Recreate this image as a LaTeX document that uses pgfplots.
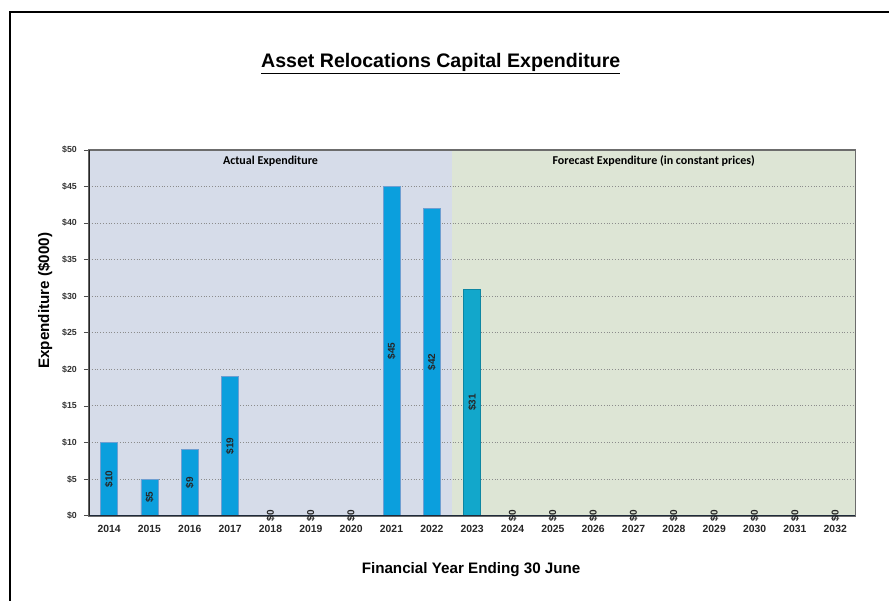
\documentclass[border=0pt]{standalone}
\usepackage{pgfplots}
\pgfplotsset{compat=1.18}
\usepackage{fontspec}
\setmainfont{Liberation Sans}
\newfontfamily\calibri{Carlito}

\definecolor{actualbg}{HTML}{D6DCE9}
\definecolor{forecastbg}{HTML}{DDE5D5}
\definecolor{barblue}{HTML}{0B9FDD}
\definecolor{barteal}{HTML}{12A7CB}
\definecolor{baredge}{HTML}{6E9FD2}
\definecolor{gridgray}{HTML}{8C8C8C}
\definecolor{axisdark}{HTML}{1E2A3A}

\begin{document}
\begin{tikzpicture}
% page frame (1px = 0.5pt)
\path (0,0) rectangle (445pt,-300.5pt);
\draw[line width=0.6pt] (5pt,-300.5pt) -- (5pt,-6pt) -- (445pt,-6pt);

\node[font=\bfseries\fontsize{9.8}{11}\selectfont] at (220.5pt,-32pt)
  {\underline{Asset Relocations Capital Expenditure}};
\node[font=\bfseries\fontsize{7.6}{9}\selectfont] at (235.7pt,-285pt)
  {Financial Year Ending 30 June};
\node[font=\bfseries\fontsize{7.6}{9}\selectfont, rotate=90] at (22.5pt,-150.5pt)
  {Expenditure (\$000)};

\begin{axis}[
    set layers,
    at={(44.5pt,-258pt)}, anchor=south west,
    scale only axis, width=383.5pt, height=183pt,
    xmin=-0.5, xmax=18.5, ymin=0, ymax=50,
    xtick={0,...,18},
    xticklabels={2014,2015,2016,2017,2018,2019,2020,2021,2022,2023,2024,2025,2026,2027,2028,2029,2030,2031,2032},
    ytick={0,5,...,50},
    yticklabels={\$0,\$5,\$10,\$15,\$20,\$25,\$30,\$35,\$40,\$45,\$50},
    x tick label style={font=\bfseries\fontsize{5.2}{6}\selectfont, text=black!85, yshift=1pt},
    y tick label style={font=\bfseries\fontsize{4.4}{5}\selectfont, text=black!80},
    xtick style={draw=none},
    ytick style={draw=black!70, line width=0.4pt},
    ytick pos=left,
    tick align=outside, major tick length=2.5pt,
    ymajorgrids, grid style={densely dotted, gridgray, line width=0.5pt},
    axis line style={draw=gray!85!black, line width=0.9pt},
]
% shaded regions
\begin{pgfonlayer}{axis background}
\fill[actualbg] (axis cs:-0.5,0) rectangle (axis cs:8.5,50);
\fill[forecastbg] (axis cs:8.5,0) rectangle (axis cs:18.5,50);
\end{pgfonlayer}

% actual expenditure
\addplot[ybar, bar width=8.5pt, fill=barblue, draw=baredge, line width=0.4pt]
  coordinates {(0,10) (1,5) (2,9) (3,19) (7,45) (8,42)};
% forecast 2023
\addplot[ybar, bar width=8.5pt, fill=barteal, draw=barteal!80!black, line width=0.3pt]
  coordinates {(9,31)};

% value labels, placed at half the bar height
\addplot[draw=none, forget plot, point meta=explicit symbolic, nodes near coords,
  nodes near coords style={rotate=90, anchor=center, inner sep=0pt,
    font=\bfseries\fontsize{5}{6}\selectfont, text=black!85}]
  coordinates {
    (0,5)[\$10] (1,2.5)[\$5] (2,4.5)[\$9] (3,9.5)[\$19]
    (4,0)[\$0] (5,0)[\$0] (6,0)[\$0] (7,22.5)[\$45] (8,21)[\$42]
    (9,15.5)[\$31] (10,0)[\$0] (11,0)[\$0] (12,0)[\$0] (13,0)[\$0]
    (14,0)[\$0] (15,0)[\$0] (16,0)[\$0] (17,0)[\$0] (18,0)[\$0]
  };

\node[font=\calibri\bfseries\fontsize{6}{7}\selectfont] at (axis cs:4,48.5) {Actual Expenditure};
\node[font=\calibri\bfseries\fontsize{6}{7}\selectfont] at (axis cs:13.5,48.5) {Forecast Expenditure (in constant prices)};

\draw[axisdark, line width=1.1pt] (rel axis cs:0,0) -- (rel axis cs:1,0);
\draw[black!85, line width=0.7pt] (rel axis cs:0,0) -- (rel axis cs:0,1);
\end{axis}
\end{tikzpicture}
\end{document}
